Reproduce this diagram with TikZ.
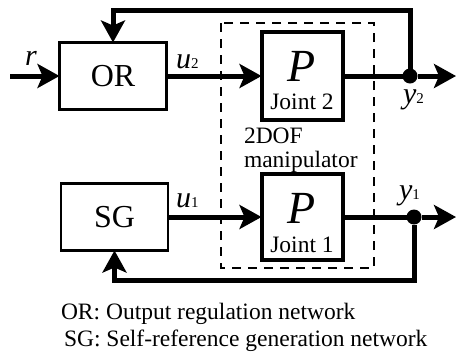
\documentclass[tikz,border=0pt]{standalone}
\usepackage{fontspec}
\setmainfont{Liberation Serif}
\usetikzlibrary{positioning, arrows.meta}

\newcommand{\signame}[2]{\textit{#1}{\fontsize{15}{15}\selectfont #2}}

\begin{document}
\begin{tikzpicture}[
      x=1pt, y=-1pt,
      every node/.style={inner sep=0pt, outer sep=0pt},
      netbox/.style={draw, line width=2.5pt, minimum width=107pt,
                  minimum height=67pt, font=\fontsize{32}{32}\selectfont},
      plant/.style={draw, line width=4pt, minimum width=81pt},
      plantsym/.style={anchor=base, text depth=0pt,
                  font=\fontsize{46}{46}\selectfont\itshape},
      small/.style={font=\fontsize{23.5}{26}\selectfont},
      sigtext/.style={anchor=base west, font=\fontsize{30}{30}\selectfont},
      dot/.style={circle, fill, minimum size=15pt},
      sig/.style={line width=5pt},
      sigarrow/.style={sig, -{Stealth[length=22pt, width=24pt, inset=5pt]}},
      dashbox/.style={draw, line width=2.5pt, dash pattern=on 9pt off 7pt},
   ]
   \useasboundingbox (0,0) rectangle (457,354);

   % networks
   \node[netbox] (OR) at (113,76) {OR};
   \node[netbox] (SG) at (114.5,217) {SG};

   % 2DOF manipulator
   \draw[dashbox] (221,23) rectangle (374,268);
   \node[plant, minimum height=88pt] (P2) at (302,76) {};
   \node[plantsym] (P2sym) at ([yshift=-49pt]P2.north) {P};
   \node[small, anchor=base] (P2name) at ([yshift=-77pt]P2.north) {Joint 2};
   \node[plant, minimum height=86pt] (P1) at (302,217) {};
   \node[plantsym] (P1sym) at ([yshift=-49pt]P1.north) {P};
   \node[small, anchor=base] (P1name) at ([yshift=-78pt]P1.north) {Joint 1};
   \node[small, anchor=base west] (dofA) at (244,143) {2DOF};
   \node[small, anchor=base west] (dofB) at (244,167) {manipulator};

   % branch points and ends
   \node[dot] (d2) at (410,76) {};
   \node[dot] (d1) at (414,217) {};
   \coordinate (rin) at (10,76);
   \coordinate (y2out) at (456,76);
   \coordinate (y1out) at (456,217);
   \coordinate (top) at (0,10);
   \coordinate (bot) at (0,280);

   % signals
   \draw[sigarrow] (rin) -- (OR);
   \draw[sigarrow] (OR) -- (P2);
   \draw[sig] (P2) -- (d2);
   \draw[sigarrow] (d2) -- (y2out);
   \draw[sigarrow] (d2) |- (OR.north |- top) -- (OR.north);
   \draw[sigarrow] (SG) -- (P1);
   \draw[sig] (P1) -- (d1);
   \draw[sigarrow] (d1) -- (y1out);
   \draw[sigarrow] (d1) |- (SG.south |- bot) -- (SG.south);

   % signal names
   \node[sigtext, anchor=base] (r) at (31,65) {\textit{r}};
   \node[sigtext] (u2) at (176,68) {\signame{u}{2}};
   \node[sigtext] (u1) at (176,207) {\signame{u}{1}};
   \node[sigtext] (y2) at (403,103) {\signame{y}{2}};
   \node[sigtext] (y1) at (399,199) {\signame{y}{1}};

   % key
   \node[small, anchor=base west] (keyOR) at (61,319) {OR: Output regulation network};
   \node[small, anchor=base west] (keySG) at (64,346) {SG: Self-reference generation network};
\end{tikzpicture}
\end{document}
